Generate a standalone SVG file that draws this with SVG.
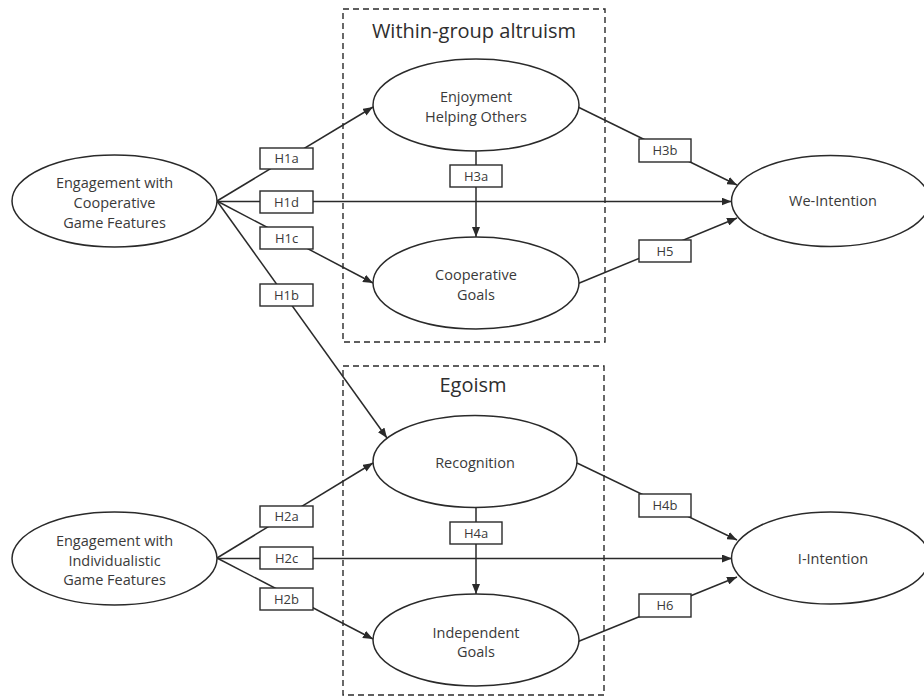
<svg xmlns="http://www.w3.org/2000/svg" width="924" height="700" viewBox="0 0 924 700">
<style>
.frame{fill:none;stroke:#2a2a2a;stroke-width:1.4;stroke-dasharray:6 4}
.title{font-family:"Open Sans","Liberation Sans",sans-serif;font-size:20px;fill:#2e2e2e;text-anchor:middle}
.node ellipse{fill:#fff;stroke:#2a2a2a;stroke-width:1.5}
.node text{font-family:"Open Sans","Liberation Sans",sans-serif;font-size:14.5px;fill:#3a3a3a;text-anchor:middle}
.lbl rect{fill:#fff;stroke:#2a2a2a;stroke-width:1.4}
.lbl text{font-family:"Open Sans","Liberation Sans",sans-serif;font-size:13px;fill:#3a3a3a;text-anchor:middle}
.edge{fill:none;stroke:#2a2a2a;stroke-width:1.5}
</style>
<defs>
<marker id="arr" markerUnits="userSpaceOnUse" markerWidth="10" markerHeight="8" refX="10" refY="4" orient="auto">
<path d="M0,0 L10,4 L0,8 z" fill="#2a2a2a"/>
</marker>
</defs>
<rect width="924" height="700" fill="#fff"/>

<g id="frame-altruism">
<rect class="frame" x="343" y="9" width="262" height="333"/>
<text class="title" x="474" y="38">Within-group altruism</text>
</g>
<g id="frame-egoism">
<rect class="frame" x="343" y="366" width="261" height="329"/>
<text class="title" x="473" y="392">Egoism</text>
</g>

<g id="connectors">
<line class="edge" x1="217" y1="201" x2="373" y2="107" marker-end="url(#arr)"/>
<line class="edge" x1="217" y1="201.5" x2="731.5" y2="201.5" marker-end="url(#arr)"/>
<line class="edge" x1="217" y1="201" x2="373" y2="283" marker-end="url(#arr)"/>
<line class="edge" x1="217" y1="201" x2="387" y2="438" marker-end="url(#arr)"/>
<line class="edge" x1="578" y1="107" x2="737" y2="185" marker-end="url(#arr)"/>
<line class="edge" x1="577" y1="284" x2="737" y2="218" marker-end="url(#arr)"/>
<line class="edge" x1="476" y1="151" x2="476" y2="237" marker-end="url(#arr)"/>
<line class="edge" x1="217" y1="558" x2="373" y2="463" marker-end="url(#arr)"/>
<line class="edge" x1="217" y1="558.5" x2="732" y2="558.5" marker-end="url(#arr)"/>
<line class="edge" x1="217" y1="558" x2="373" y2="639" marker-end="url(#arr)"/>
<line class="edge" x1="577" y1="463" x2="737" y2="540" marker-end="url(#arr)"/>
<line class="edge" x1="577" y1="642" x2="737" y2="577" marker-end="url(#arr)"/>
<line class="edge" x1="476" y1="507" x2="476" y2="594" marker-end="url(#arr)"/>
</g>

<g id="labels">
<g class="lbl" id="lbl-H1a"><rect x="260" y="148" width="53" height="21"/><text x="286.5" y="163">H1a</text></g>
<g class="lbl" id="lbl-H1d"><rect x="260" y="191" width="53" height="22"/><text x="286.5" y="206.5">H1d</text></g>
<g class="lbl" id="lbl-H1c"><rect x="260" y="227" width="53" height="22"/><text x="286.5" y="242.5">H1c</text></g>
<g class="lbl" id="lbl-H1b"><rect x="260" y="284" width="53" height="22"/><text x="286.5" y="299.5">H1b</text></g>
<g class="lbl" id="lbl-H3a"><rect x="450" y="165" width="52" height="22"/><text x="476" y="180.5">H3a</text></g>
<g class="lbl" id="lbl-H3b"><rect x="639" y="139" width="52" height="23"/><text x="665" y="155">H3b</text></g>
<g class="lbl" id="lbl-H5"><rect x="639" y="240" width="52" height="22"/><text x="665" y="255.5">H5</text></g>
<g class="lbl" id="lbl-H2a"><rect x="260" y="506" width="53" height="21"/><text x="286.5" y="521">H2a</text></g>
<g class="lbl" id="lbl-H2c"><rect x="260" y="547" width="53" height="22"/><text x="286.5" y="562.5">H2c</text></g>
<g class="lbl" id="lbl-H2b"><rect x="260" y="588" width="53" height="22"/><text x="286.5" y="603.5">H2b</text></g>
<g class="lbl" id="lbl-H4a"><rect x="450" y="522" width="52" height="22"/><text x="476" y="537.5">H4a</text></g>
<g class="lbl" id="lbl-H4b"><rect x="639" y="494" width="52" height="23"/><text x="665" y="510">H4b</text></g>
<g class="lbl" id="lbl-H6"><rect x="639" y="594" width="52" height="23"/><text x="665" y="610">H6</text></g>
</g>

<g class="node" id="coop-features">
<ellipse cx="114.5" cy="201" rx="102.5" ry="46"/>
<text x="114.5" y="188">Engagement with</text>
<text x="114.5" y="208">Cooperative</text>
<text x="114.5" y="228">Game Features</text>
</g>
<g class="node" id="enjoyment">
<ellipse cx="476" cy="105" rx="103" ry="46"/>
<text x="476" y="102">Enjoyment</text>
<text x="476" y="122">Helping Others</text>
</g>
<g class="node" id="coop-goals">
<ellipse cx="476" cy="283" rx="103" ry="46"/>
<text x="476" y="280">Cooperative</text>
<text x="476" y="300">Goals</text>
</g>
<g class="node" id="we-intention">
<ellipse cx="830.5" cy="201" rx="99" ry="45.5"/>
<text x="833" y="206">We-Intention</text>
</g>
<g class="node" id="indiv-features">
<ellipse cx="114.5" cy="558.5" rx="102.5" ry="46.5"/>
<text x="114.5" y="546">Engagement with</text>
<text x="114.5" y="565.5">Individualistic</text>
<text x="114.5" y="585">Game Features</text>
</g>
<g class="node" id="recognition">
<ellipse cx="475" cy="461.5" rx="102" ry="46"/>
<text x="475" y="468">Recognition</text>
</g>
<g class="node" id="indep-goals">
<ellipse cx="476" cy="640" rx="103" ry="46"/>
<text x="476" y="638">Independent</text>
<text x="476" y="657">Goals</text>
</g>
<g class="node" id="i-intention">
<ellipse cx="830.5" cy="558" rx="99" ry="46"/>
<text x="833" y="564">I-Intention</text>
</g>
</svg>
